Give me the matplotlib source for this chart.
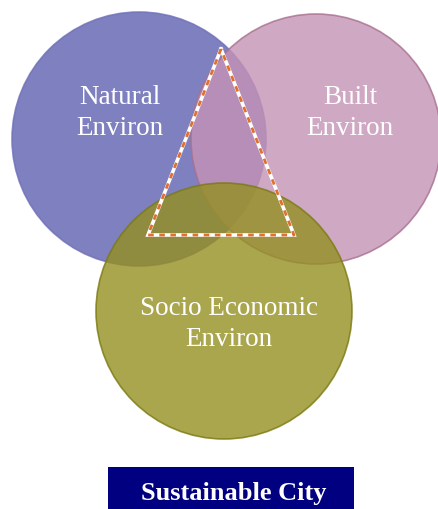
import matplotlib
matplotlib.use('Agg')
import matplotlib.pyplot as plt
from matplotlib.patches import Circle, Rectangle

# circle labels and colours
labels = ['Natural\nEnviron', 'Built\nEnviron', 'Socio Economic\nEnviron']
fills = ['#5f60b0', '#c492b5', '#949020']
edges = ['#6f70b8', '#a8708e', '#7a7a10']
title = 'Sustainable City'

# geometry in pixel units (y down)
centers = [(139, 140), (316, 140), (224, 312)]
radii = [127, 125, 128]
label_pos = [(120, 113), (350, 113), (229, 324)]
tri_x = [221, 148, 294, 221]
tri_y = [50, 236, 236, 50]

fig = plt.figure(figsize=(4.38, 5.10), dpi=100)
ax = fig.add_axes([0, 0, 1, 1])
ax.set_xlim(0, 438)
ax.set_ylim(510, 0)
ax.set_aspect('equal')
ax.axis('off')

for (cx, cy), r, fc, ec in zip(centers, radii, fills, edges):
    ax.add_patch(Circle((cx, cy), r, facecolor=fc, edgecolor=ec,
                        alpha=0.8, lw=1.2))

# dashed triangle: white under, orange dashes on top
ax.plot(tri_x, tri_y, color='white', lw=2.6, solid_joinstyle='miter')
ax.plot(tri_x, tri_y, color='#e07030', lw=2.0, dashes=(2, 2))

for (x, y), t in zip(label_pos, labels):
    ax.text(x, y, t, ha='center', va='center', color='white',
            fontsize=19.5, family='Liberation Serif', linespacing=1.35)

ax.add_patch(Rectangle((108, 468), 246, 44, facecolor='#000080',
                       edgecolor='none'))
ax.text(234, 500, title, ha='center', va='baseline', color='white',
        fontsize=19, fontweight='bold', family='Liberation Serif')

plt.savefig('out.png', dpi=100)
plt.close()
